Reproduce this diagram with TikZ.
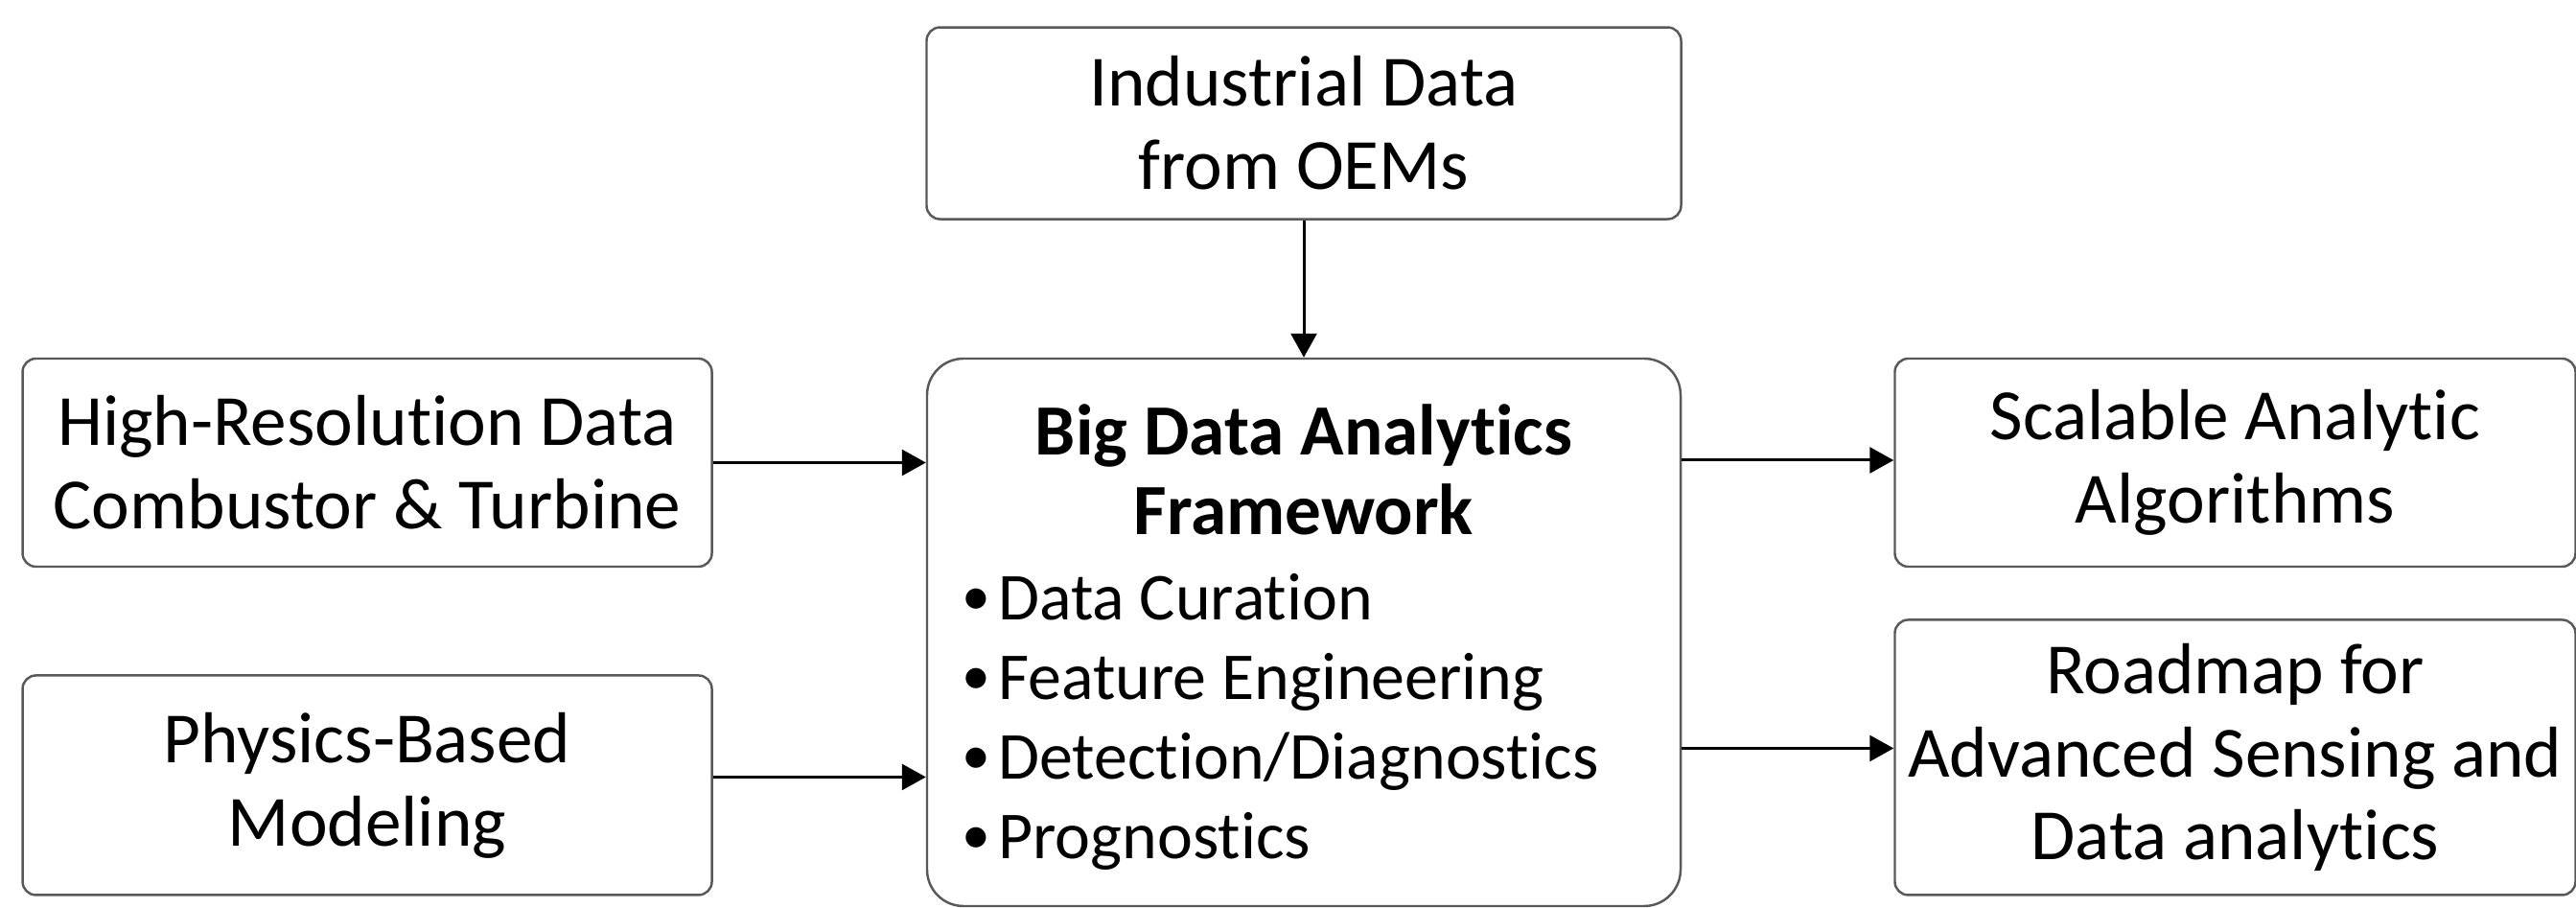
\documentclass[tikz,border=0pt]{standalone}
\usepackage{fontspec}
\setmainfont{Carlito}[Ligatures=NoCommon,RawFeature=-liga,RawFeature=-clig,RawFeature=-calt]
\usepackage{tikz}
\usetikzlibrary{arrows.meta,positioning}

\newcommand{\bul}{\makebox[0.54em][l]{\raisebox{0.07em}{\fontsize{17}{17}\selectfont•}}}

\begin{document}
\begin{tikzpicture}[-{Triangle[length=2.5mm,width=2.7mm]},line width=0.85pt,auto,node distance=2.2cm,
  font=\fontsize{21.4}{24.7}\selectfont]
\tikzstyle{box}=[draw=black!65,line width=0.7pt,rounded corners=1.4mm,align=center,inner sep=0pt]
\tikzstyle{bigbox}=[box,rounded corners=3.8mm,minimum width=7.86cm,minimum height=5.71cm]
\tikzstyle{txt}=[inner sep=0pt,font=\fontsize{19.9}{23.6}\selectfont]
\useasboundingbox (0,0) rectangle (26.87,9.47);
\node[bigbox] (bda) at (13.60,2.875) {};
\node[box,minimum width=7.87cm,minimum height=2.00cm][above=1.43cm of bda](oem){Industrial Data\\from OEMs};
\node[box,minimum width=7.19cm,minimum height=2.17cm][below left=0cm and 2.22cm of bda.north west](hrd){High-Resolution Data\\Combustor \& Turbine};
\node[box,minimum width=7.19cm,minimum height=2.29cm][below=1.11cm of hrd](phys){Physics-Based\\Modeling};
\node[box,minimum width=7.10cm,minimum height=2.17cm][below right=0cm and 2.21cm of bda.north east](sca){Scalable Analytic\\Algorithms};
\node[box,minimum width=7.10cm,minimum height=2.87cm][below=0.53cm of sca](road){Roadmap for\\Advanced Sensing and\\Data analytics};
\node[txt,align=center,font=\fontsize{21.4}{23.7}\selectfont\bfseries][below=0.47cm of bda.north](bdatitle){Big Data Analytics\\Framework};
\node[txt,align=left,anchor=north west] (bdalist) at (10.02,3.50)
  {\bul Data Curation\\\bul Feature Engineering\\\bul Detection/Diagnostics\\\bul Prognostics};
% arrow ends a little off the box centres
\coordinate (physout) at ([yshift=0.85mm]phys.east);
\coordinate (scain) at ([yshift=0.25mm]sca.west);
\coordinate (roadin) at ([yshift=0.95mm]road.west);
\path (oem)edge(bda)
      (hrd)edge(hrd-|bda.west)
      (physout)edge(physout-|bda.west)
      (scain-|bda.east)edge(scain)
      (roadin-|bda.east)edge(roadin);
\end{tikzpicture}
\end{document}
